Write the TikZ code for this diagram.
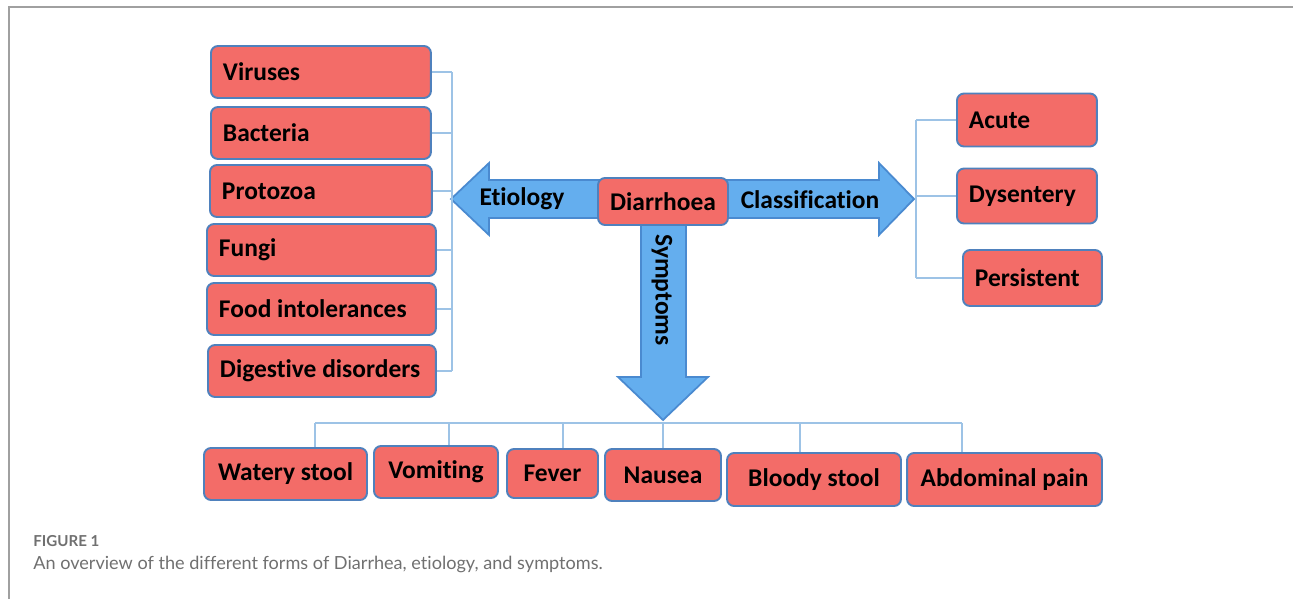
\documentclass[tikz,border=0pt]{standalone}
\usepackage{fontspec}
\setmainfont[Ligatures=NoCommon]{Carlito}
\newfontfamily\capfont[Ligatures=NoCommon]{Lato}
\usetikzlibrary{calc}

\definecolor{boxred}{HTML}{F36C68}
\definecolor{boxblue}{HTML}{4F81BD}
\definecolor{arrowblue}{HTML}{64AEEE}
\definecolor{arrowedge}{HTML}{4A8AD0}
\definecolor{linkblue}{HTML}{9DC3E6}
\definecolor{framegray}{HTML}{A0A0A0}
\definecolor{capgray}{HTML}{707070}

\tikzset{
  box/.style={draw=boxblue, fill=boxred, line width=1.1pt, rounded corners=4pt,
    inner xsep=0.24cm, inner ysep=0pt, minimum height=1.04cm,
    font=\fontsize{14.5}{17}\selectfont\bfseries},
  sidebox/.style={box, anchor=west, text width=#1, align=flush left},
  link/.style={draw=linkblue, line width=0.7pt},
  armlabel/.style={font=\fontsize{14.5}{17}\selectfont\bfseries},
}

\begin{document}
\begin{tikzpicture}[x=0.02cm, y=-0.02cm]
  \useasboundingbox (0,0) rectangle (1293,599);

  % Draw the frame
  \draw[framegray, line width=1pt] (9,599) -- (9,7) -- (1293,7);

  % Draw the three arrows as one shape
  \draw[arrowedge, fill=arrowblue, line width=1pt, line join=miter]
    (451,199) -- (489,163) -- (489,180) -- (879,180) -- (879,163) -- (914,199)
    -- (879,235) -- (879,218) -- (686,218) -- (686,377) -- (708,377) -- (663,420)
    -- (618,377) -- (641,377) -- (641,218) -- (489,218) -- (489,235) -- cycle;

  % Arrow labels
  \node[armlabel] (eti) at (522,199) {Etiology};
  \node[armlabel] (cla) at (810,200) {Classification};
  \node[armlabel, rotate=-90] (sym) at (662,290) {Symptoms};

  % Centre box
  \node[box, inner xsep=0pt, minimum width=2.6cm, minimum height=0.94cm] (dia) at (663,201.5) {Diarrhoea};

  % Etiology boxes
  \node[sidebox=3.92cm] (vir) at (210,72) {Viruses};
  \node[sidebox=3.92cm] (bac) at (210,133) {Bacteria};
  \node[sidebox=3.96cm] (pro) at (209,191) {Protozoa};
  \node[sidebox=4.10cm] (fun) at (206,250) {Fungi};
  \node[sidebox=4.10cm] (foo) at (206,309) {Food intolerances};
  \node[sidebox=4.08cm] (dig) at (207,371) {Digestive disorders};

  % Classification boxes
  \node[sidebox=2.32cm, minimum height=1.06cm] (acu) at (956,120) {Acute};
  \node[sidebox=2.32cm, minimum height=1.10cm] (dys) at (956,196) {Dysentery};
  \node[sidebox=2.30cm, minimum height=1.12cm] (per) at (962,278) {Persistent};

  % Symptom boxes
  \node[box, minimum width=3.26cm] (wat) at (285.5,474) {Watery stool};
  \node[box, minimum width=2.48cm] (vom) at (436,472) {Vomiting};
  \node[box, minimum width=1.82cm, minimum height=0.98cm] (fev) at (552.5,473.5) {Fever};
  \node[box, minimum width=2.32cm] (nau) at (663,475) {Nausea};
  \node[box, minimum width=3.48cm, minimum height=1.06cm] (blo) at (814,479.5) {Bloody stool};
  \node[box, minimum width=3.90cm, minimum height=1.06cm] (abd) at (1004.5,479.5) {Abdominal pain};

  % Draw the left bracket
  \coordinate (lbus) at (452,0);
  \draw[link] (vir.east -| lbus) -- (dig.east -| lbus);
  \foreach \n in {vir,bac,pro,fun,foo,dig}
    \draw[link] (\n.east) -- (\n.east -| lbus);

  % Draw the right bracket
  \coordinate (rbus) at (916,0);
  \draw[link] (acu.west -| rbus) -- (per.west -| rbus);
  \foreach \n in {acu,dys,per}
    \draw[link] (\n.west) -- (\n.west -| rbus);

  % Draw the bottom bracket
  \foreach \n/\x in {wat/315, vom/449, fev/563, nau/663, blo/800, abd/962} {
    \coordinate (t\n) at (\x,423);
    \draw[link] (t\n) -- (t\n |- \n.north);
  }
  \draw[link] (twat) -- (tabd);

  % Caption
  \node[anchor=base west, inner sep=0pt, text=capgray,
    font=\capfont\fontsize{8.6}{11}\selectfont\bfseries] (fig) at (33,546) {FIGURE 1};
  \node[anchor=base west, inner sep=0pt, text=capgray,
    font=\capfont\fontsize{10.3}{12}\selectfont] (cap) at (33,569)
    {An overview of the different forms of Diarrhea, etiology, and symptoms.};
\end{tikzpicture}
\end{document}
